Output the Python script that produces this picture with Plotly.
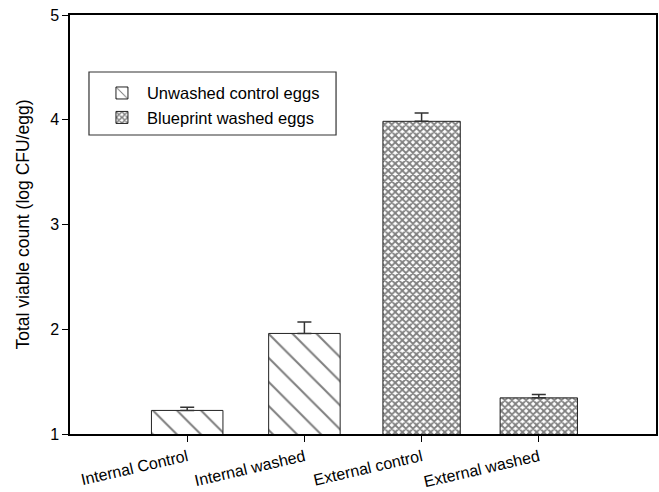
import plotly.graph_objects as go

categories = ["Internal Control", "Internal washed", "External control", "External washed"]
positions = [1, 2, 3, 4]
unwashed_vals = [1.225, 1.96]
unwashed_err = [0.03, 0.11]
washed_vals = [3.985, 1.345]
washed_err = [0.08, 0.032]

font_family = "Arial, Liberation Sans, sans-serif"

fig = go.Figure()
fig.add_trace(go.Bar(
    x=positions[:2], y=unwashed_vals, name="Unwashed control eggs",
    width=0.61,
    marker=dict(color="white", line=dict(color="#222", width=1),
                pattern=dict(shape="\\", size=17, solidity=0.12, fgcolor="black", bgcolor="white")),
    error_y=dict(type="data", array=unwashed_err, symmetric=False, arrayminus=[0, 0],
                 color="#333", thickness=1.5, width=7),
))
fig.add_trace(go.Bar(
    x=positions[2:], y=washed_vals, name="Blueprint washed eggs",
    width=0.66,
    marker=dict(color="white", line=dict(color="#222", width=1),
                pattern=dict(shape="x", size=5, solidity=0.6, fgcolor="black", bgcolor="white")),
    error_y=dict(type="data", array=washed_err, symmetric=False, arrayminus=[0, 0],
                 color="#333", thickness=1.5, width=7),
))

# legend frame
fig.add_shape(type="rect", xref="paper", yref="paper",
              x0=0.0324, x1=0.454, y0=0.7136, y1=0.864,
              line=dict(color="#333", width=1.2), fillcolor="rgba(0,0,0,0)", layer="above")

fig.update_layout(
    width=659, height=492,
    margin=dict(l=70, r=3, t=15, b=58, autoexpand=False),
    paper_bgcolor="white", plot_bgcolor="white",
    barmode="overlay",
    font=dict(family=font_family, size=15, color="black"),
    showlegend=True,
    legend=dict(x=0.046, y=0.855, xanchor="left", yanchor="top",
                borderwidth=0, bgcolor="rgba(0,0,0,0)",
                font=dict(size=16.5), tracegroupgap=0, itemwidth=40),
)
fig.update_xaxes(
    range=[0, 5], tickvals=positions, ticktext=categories, tickangle=-13,
    showline=True, linecolor="black", linewidth=1.5, mirror=True,
    ticks="outside", ticklen=6, tickcolor="black", showgrid=False, zeroline=False,
    tickfont=dict(size=16), automargin=False,
)
fig.update_yaxes(
    range=[1, 5], tickvals=[1, 2, 3, 4, 5],
    showline=True, linecolor="black", linewidth=1.5, mirror=True,
    ticks="outside", ticklen=6, tickcolor="black", showgrid=False, zeroline=False,
    tickfont=dict(size=16), automargin=False,
    title=dict(text="Total viable count (log CFU/egg)", font=dict(size=17.5), standoff=16),
)

fig.write_html("out.html",
               config={"displayModeBar": False},
               post_script="document.body.style.margin='0';document.body.style.overflow='hidden';")
